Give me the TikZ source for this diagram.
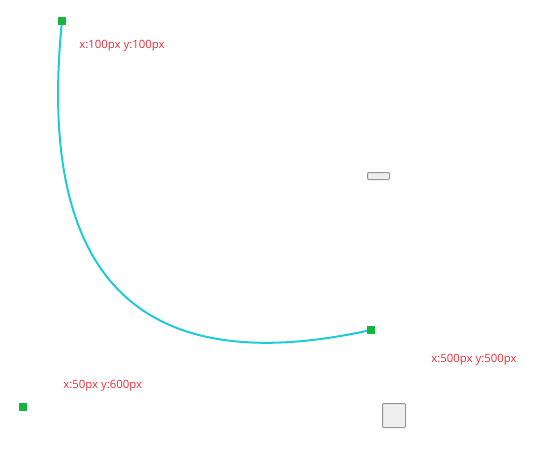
\documentclass[tikz,border=0pt]{standalone}
\usepackage{fontspec}
\setmainfont{Open Sans}
\usetikzlibrary{calc}
\usetikzlibrary{positioning}
\definecolor{handlegreen}{RGB}{22,182,62}
\definecolor{curvecyan}{RGB}{32,204,212}
\definecolor{labelred}{RGB}{232,46,56}
\definecolor{knobgray}{RGB}{238,238,238}
\definecolor{knobedge}{RGB}{150,150,150}

\begin{document}
\begin{tikzpicture}[x=1pt, y=-1pt, semithick]
  \tikzstyle{handle}=[fill=handlegreen, draw=none, minimum size=8pt, inner sep=0pt]
  \tikzstyle{coordlabel}=[text=labelred, anchor=west, inner sep=0pt, font=\fontsize{11.4}{13}\selectfont]
  \tikzstyle{knob}=[fill=knobgray, draw=knobedge, line width=1pt, rounded corners=1pt, inner sep=0pt]
\useasboundingbox (0,0) rectangle (541,464);
    \coordinate (start) at (62,21);
    \coordinate (ctrl) at (23,407);
    \coordinate (end) at (371,330);
\draw[curvecyan, line width=2pt] (start) .. controls ($(start)!2/3!(ctrl)$) and ($(end)!2/3!(ctrl)$) .. (end);
    \node[handle] (h_start) at (start) {};
    \node[handle] (h_end) at (end) {};
    \node[handle] (h_ctrl) at (ctrl) {};
    \node[coordlabel] (l_start) at (79,45.5) {x:100px y:100px};
    \node[coordlabel] (l_end) at (431,359.5) {x:500px y:500px};
    \node[coordlabel] (l_ctrl) at (63,385.5) {x:50px y:600px};
    \node[knob, minimum width=22pt, minimum height=7pt] (slider) at (378.5,176) {};
    \node[knob, minimum width=23pt, minimum height=24pt] (button) at (394,415.5) {};
   \end{tikzpicture}
\end{document}
